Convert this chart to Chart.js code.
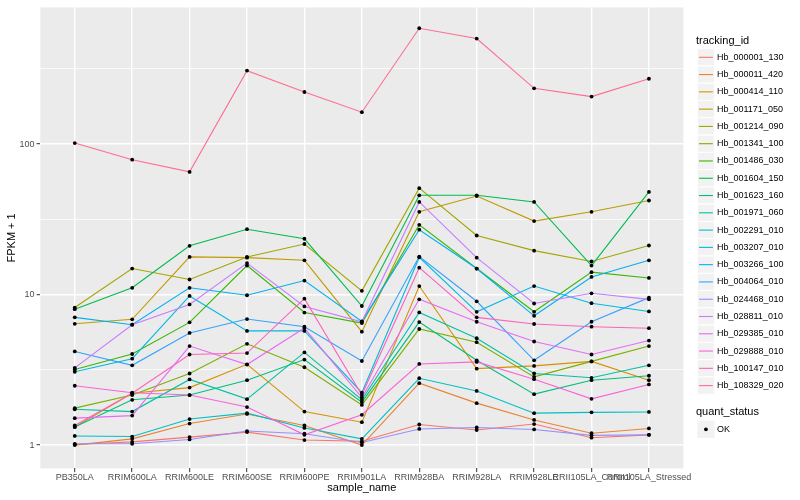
<!DOCTYPE html>
<html lang="en">
<head>
<meta charset="UTF-8" />
<title>FPKM + 1 by sample_name</title>
<script src="https://cdn.jsdelivr.net/npm/chart.js"></script>
<style>
  html, body { margin: 0; padding: 0; background: #ffffff; }
  canvas { display: block; }
</style>
</head>
<body>
<canvas id="fpkmChart" width="800" height="500"></canvas>
<script>
const sampleNames = [
  "PB350LA", "RRIM600LA", "RRIM600LE", "RRIM600SE", "RRIM600PE", "RRIM901LA",
  "RRIM928BA", "RRIM928LA", "RRIM928LE", "RRII105LA_Control", "RRII105LA_Stressed",
];

const trackingIds = [
  "Hb_000001_130", "Hb_000011_420", "Hb_000414_110", "Hb_001171_050", "Hb_001214_090",
  "Hb_001341_100", "Hb_001486_030", "Hb_001604_150", "Hb_001623_160", "Hb_001971_060",
  "Hb_002291_010", "Hb_003207_010", "Hb_003266_100", "Hb_004064_010", "Hb_024468_010",
  "Hb_028811_010", "Hb_029385_010", "Hb_029888_010", "Hb_100147_010", "Hb_108329_020",
];

// FPKM + 1, one value per sample_name
const hb_000001_130 = [1.01, 1.05, 1.13, 1.22, 1.08, 1.06, 1.37, 1.26, 1.38, 1.12, 1.17];
const hb_000011_420 = [1.00, 1.10, 1.39, 1.61, 1.35, 1.00, 2.58, 1.90, 1.47, 1.20, 1.29];
const hb_000414_110 = [1.32, 2.21, 2.41, 3.44, 1.67, 1.42, 11.4, 3.22, 3.36, 3.60, 2.70];
const hb_001171_050 = [6.40, 6.85, 17.8, 17.6, 16.9, 5.67, 35.5, 45.2, 30.8, 35.5, 42.2];
const hb_001214_090 = [8.20, 14.9, 12.6, 17.8, 21.7, 10.6, 51.0, 24.7, 19.6, 16.6, 21.2];
const hb_001341_100 = [1.76, 2.15, 2.99, 4.71, 3.29, 1.85, 5.91, 4.83, 2.84, 3.60, 4.55];
const hb_001486_030 = [3.18, 4.03, 6.54, 15.6, 7.60, 6.47, 29.1, 14.9, 7.69, 14.1, 12.9];
const hb_001604_150 = [8.00, 11.1, 21.1, 27.2, 23.5, 8.40, 45.7, 45.7, 41.3, 15.6, 48.1];
const hb_001623_160 = [1.32, 2.00, 2.15, 2.70, 3.70, 1.93, 6.57, 3.66, 2.18, 2.70, 2.89];
const hb_001971_060 = [1.73, 1.67, 2.73, 2.02, 4.13, 2.00, 7.61, 5.13, 2.99, 2.80, 3.39];
const hb_002291_010 = [1.15, 1.14, 1.49, 1.63, 1.30, 1.10, 2.78, 2.29, 1.63, 1.65, 1.66];
const hb_003207_010 = [3.07, 3.75, 9.80, 5.74, 5.74, 2.23, 17.7, 7.69, 11.4, 8.77, 7.73];
const hb_003266_100 = [7.06, 6.31, 11.1, 9.90, 12.4, 6.64, 27.0, 14.9, 7.23, 13.1, 16.9];
const hb_004064_010 = [4.19, 3.39, 5.56, 6.88, 6.12, 3.62, 17.9, 9.03, 3.66, 6.60, 9.55];
const hb_024468_010 = [1.02, 1.02, 1.09, 1.24, 1.19, 1.04, 1.28, 1.31, 1.27, 1.16, 1.17];
const hb_028811_010 = [3.26, 6.31, 8.60, 16.2, 8.34, 6.60, 41.3, 17.6, 8.73, 10.2, 9.30];
const hb_029385_010 = [1.51, 1.57, 4.55, 3.43, 6.00, 2.07, 9.31, 6.60, 4.88, 4.00, 4.95];
const hb_029888_010 = [2.48, 2.23, 2.15, 1.79, 1.17, 1.59, 3.46, 3.57, 2.74, 2.03, 2.53];
const hb_100147_010 = [1.35, 2.21, 4.00, 4.09, 9.40, 2.15, 15.1, 7.06, 6.38, 6.12, 5.98];
const hb_108329_020 = [101.6, 78.8, 65.4, 308, 222, 163, 589, 503, 235, 207, 272];

const seriesValues = [
  hb_000001_130, hb_000011_420, hb_000414_110, hb_001171_050, hb_001214_090,
  hb_001341_100, hb_001486_030, hb_001604_150, hb_001623_160, hb_001971_060,
  hb_002291_010, hb_003207_010, hb_003266_100, hb_004064_010, hb_024468_010,
  hb_028811_010, hb_029385_010, hb_029888_010, hb_100147_010, hb_108329_020,
];

const yMajorTicks = [1, 10, 100];
const yMinorTicks = [3.1623, 31.623, 316.23];
const qualityStatus = ["OK"];

// ggplot default hue palette for 20 groups
const palette = [
  "#F8766D", "#EA8331", "#D89000", "#C09B00", "#A3A500", "#7CAE00", "#39B600",
  "#00BB4E", "#00BF7D", "#00C1A3", "#00BFC4", "#00BAE0", "#00B0F6", "#35A2FF",
  "#9590FF", "#C77CFF", "#E76BF3", "#FA62DB", "#FF62BC", "#FF6C90",
];

// y limits: 5% expansion of the log range, like ggplot
const allValues = seriesValues.flat();
const logLo = Math.log10(Math.min(...allValues));
const logHi = Math.log10(Math.max(...allValues));
const logPad = (logHi - logLo) * 0.05;
const yMin = Math.pow(10, logLo - logPad);
const yMax = Math.pow(10, logHi + logPad);

const FONT = "'Liberation Sans', Arial, sans-serif";
Chart.defaults.font.family = FONT;

const lineSets = trackingIds.map((id, i) => ({
  label: id,
  data: seriesValues[i].map((v, j) => ({ x: j, y: v })),
  borderColor: palette[i],
  backgroundColor: palette[i],
  borderWidth: 1.1,
  pointRadius: 0,
  fill: false,
  tension: 0,
  order: trackingIds.length - i,
}));

const pointSet = {
  label: qualityStatus[0],
  data: seriesValues.flatMap((vals) => vals.map((v, j) => ({ x: j, y: v }))),
  showLine: false,
  pointRadius: 1.9,
  pointBackgroundColor: "#000000",
  pointBorderWidth: 0,
  order: 0,
};

const panelBackground = {
  id: "panelBackground",
  beforeDraw(chart) {
    const { ctx, chartArea: a } = chart;
    ctx.save();
    ctx.fillStyle = "#EBEBEB";
    ctx.fillRect(a.left, a.top, a.right - a.left, a.bottom - a.top);
    ctx.restore();
  },
};

const sideLegend = {
  id: "sideLegend",
  afterDraw(chart) {
    const ctx = chart.ctx;
    const keyX = 697.3;
    const key = 17.28;
    const textX = 717;
    ctx.save();
    ctx.textAlign = "left";
    ctx.textBaseline = "middle";
    ctx.fillStyle = "#000000";
    ctx.font = "11px " + FONT;
    ctx.fillText("tracking_id", 696, 40.5);
    ctx.font = "9px " + FONT;
    trackingIds.forEach((id, i) => {
      const yc = 57.3 + i * key;
      ctx.fillStyle = "#F2F2F2";
      ctx.fillRect(keyX, yc - key / 2, key, key);
      ctx.strokeStyle = "#FFFFFF";
      ctx.lineWidth = 1;
      ctx.strokeRect(keyX, yc - key / 2, key, key);
      ctx.strokeStyle = palette[i];
      ctx.lineWidth = 1.1;
      ctx.beginPath();
      ctx.moveTo(keyX + 1.7, yc);
      ctx.lineTo(keyX + key - 1.7, yc);
      ctx.stroke();
      ctx.fillStyle = "#000000";
      ctx.fillText(id, textX, yc);
    });

    ctx.font = "11px " + FONT;
    ctx.fillText("quant_status", 696, 412.3);
    const yc = 429.3;
    ctx.fillStyle = "#F2F2F2";
    ctx.fillRect(keyX, yc - key / 2, key, key);
    ctx.fillStyle = "#000000";
    ctx.beginPath();
    ctx.arc(keyX + key / 2, yc, 1.9, 0, Math.PI * 2);
    ctx.fill();
    ctx.font = "9px " + FONT;
    ctx.fillText(qualityStatus[0], textX, yc);
    ctx.restore();
  },
};

const isMajor = (c) => c.tick && yMajorTicks.includes(c.tick.value);

new Chart(document.getElementById("fpkmChart"), {
  type: "line",
  data: { datasets: [...lineSets, pointSet] },
  plugins: [panelBackground, sideLegend],
  options: {
    responsive: false,
    animation: false,
    events: [],
    layout: { padding: { left: 0, top: 5.2, right: 116.6, bottom: 0 } },
    plugins: {
      legend: { display: false },
      tooltip: { enabled: false },
    },
    scales: {
      x: {
        type: "linear",
        min: -0.6,
        max: sampleNames.length - 1 + 0.6,
        afterBuildTicks: (scale) => {
          scale.ticks = sampleNames.map((_, i) => ({ value: i }));
        },
        afterFit: (scale) => {
          scale.height = 31.6;
        },
        ticks: {
          callback: (v) => sampleNames[Math.round(v)],
          autoSkip: false,
          maxRotation: 0,
          minRotation: 0,
          color: "#4D4D4D",
          font: { size: 9 },
          padding: 0,
        },
        grid: {
          color: "#FFFFFF",
          lineWidth: 1.4,
          tickColor: "#333333",
          tickLength: 3.7,
          tickWidth: 1,
        },
        border: { display: false },
        title: {
          display: true,
          text: "sample_name",
          color: "#000000",
          font: { size: 11 },
          padding: { top: 0, bottom: 5.4 },
        },
      },
      y: {
        type: "logarithmic",
        min: yMin,
        max: yMax,
        afterBuildTicks: (scale) => {
          scale.ticks = [...yMajorTicks, ...yMinorTicks]
            .sort((a, b) => a - b)
            .map((v) => ({ value: v }));
        },
        afterFit: (scale) => {
          scale.width = 40.3;
        },
        ticks: {
          callback: (v) => (yMajorTicks.includes(v) ? String(v) : ""),
          autoSkip: false,
          color: "#4D4D4D",
          font: { size: 9 },
          padding: 2,
        },
        grid: {
          color: "#FFFFFF",
          lineWidth: (c) => (isMajor(c) ? 1.4 : 0.7),
          tickColor: (c) => (isMajor(c) ? "#333333" : "rgba(0,0,0,0)"),
          tickLength: 3.7,
          tickWidth: 1,
        },
        border: { display: false },
        title: {
          display: true,
          text: "FPKM + 1",
          color: "#000000",
          font: { size: 11 },
          padding: { top: 5.4, bottom: 0 },
        },
      },
    },
  },
});
</script>
</body>
</html>
